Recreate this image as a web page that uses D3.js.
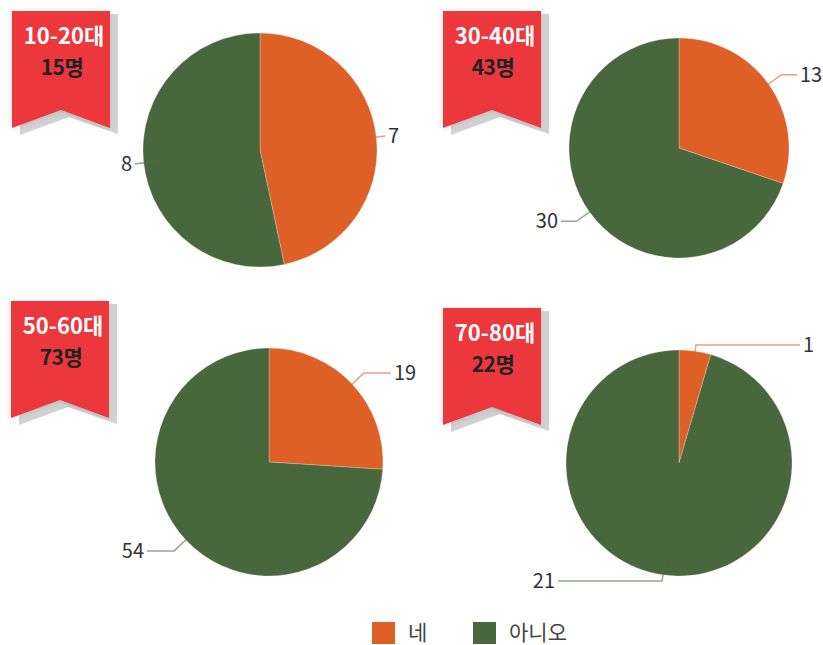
<!DOCTYPE html>
<html><head><meta charset="utf-8">
<script src="https://cdn.jsdelivr.net/npm/d3@7"></script>
<style>
html,body{margin:0;padding:0;background:#fff;}
svg{display:block;font-family:"Noto Sans CJK KR","Noto Sans",sans-serif;}
</style></head>
<body><svg id="chart" width="823" height="645"></svg>
<script>
// ---- data ----
const groups = ["10-20대", "30-40대", "50-60대", "70-80대"];
const totals = ["15명", "43명", "73명", "22명"];
const seriesNames = ["네", "아니오"];
const yesValues = [7, 13, 19, 1];
const noValues = [8, 30, 54, 21];
const seriesColors = ["#de6027", "#48673c"];

// ---- layout (not data) ----
const panels = [
  {cx: 260, cy: 150, r: 117, rx: 12, ry: 11},
  {cx: 679, cy: 148, r: 110, rx: 443, ry: 11},
  {cx: 269, cy: 462, r: 114, rx: 11, ry: 301},
  {cx: 679, cy: 463, r: 113, rx: 443, ry: 308}
];

const svg = d3.select("#chart");
const defs = svg.append("defs");
const f = defs.append("filter").attr("id", "sh").attr("x", "-30%").attr("y", "-30%").attr("width", "160%").attr("height", "160%");
f.append("feDropShadow").attr("dx", -1).attr("dy", 1).attr("stdDeviation", 3).attr("flood-color", "#000").attr("flood-opacity", 0.12);

const color = d3.scaleOrdinal().domain(seriesNames).range(seriesColors);
const pie = d3.pie().sort(null).value(d => d.value);

groups.forEach((g, i) => {
  const p = panels[i];
  const data = [
    {name: seriesNames[0], value: yesValues[i]},
    {name: seriesNames[1], value: noValues[i]}
  ];
  const arcs = pie(data);
  const arc = d3.arc().innerRadius(0).outerRadius(p.r);
  const gp = svg.append("g").attr("transform", `translate(${p.cx},${p.cy})`);
  gp.selectAll("path.slice").data(arcs).join("path")
    .attr("class", "slice")
    .attr("d", arc)
    .attr("fill", d => color(d.data.name))
    .attr("stroke", "#fff").attr("stroke-width", 0.5).attr("stroke-opacity", 0.5);

  arcs.forEach(d => {
    const a = (d.startAngle + d.endAngle) / 2;
    const sx = Math.sin(a), sy = -Math.cos(a);
    const side = sx >= 0 ? 1 : -1;
    const ix = sx * p.r * 0.85, iy = sy * p.r * 0.85;
    let t = p.r + 16;
    let ky = sy * t;
    const lim = p.r + 5;
    if (Math.abs(ky) > lim) { ky = Math.sign(ky) * lim; t = ky / sy; }
    let kx = sx * t;
    const ex = side * (p.r + 8);
    if (side > 0) kx = Math.min(kx, ex); else kx = Math.max(kx, ex);
    const lc = d3.interpolateRgb(color(d.data.name), "#888")(0.12);
    gp.append("polyline")
      .attr("points", [[ix, iy], [kx, ky], [ex, ky]].map(q => q.join(",")).join(" "))
      .attr("fill", "none").attr("stroke", lc).attr("stroke-opacity", 0.6).attr("stroke-width", 1.5);
    gp.append("text")
      .attr("x", ex + side * 3).attr("y", ky)
      .attr("dy", "0.35em")
      .attr("text-anchor", side > 0 ? "start" : "end")
      .attr("font-size", 20).attr("fill", "#333")
      .text(d.data.value);
  });

  // ribbon badge
  const w = 98, h = 117, notch = 99;
  const x = p.rx, y = p.ry;
  const rib = svg.append("g");
  rib.append("polygon")
    .attr("points", [[x + 8, y + 3], [x + w + 8, y + 3], [x + w + 8, y + h + 6], [x + w / 2 + 8, y + notch + 7], [x + 8, y + h + 7]].map(q => q.join(",")).join(" "))
    .attr("fill", "#d2d2d2");
  rib.append("polygon")
    .attr("points", [[x, y], [x + w, y], [x + w, y + h], [x + w / 2, y + notch], [x, y + h]].map(q => q.join(",")).join(" "))
    .attr("fill", "#ec383d").attr("filter", "url(#sh)");
  rib.append("text").attr("text-anchor", "middle").attr("font-weight", 700)
    .attr("x", x + w / 2 + 3).attr("y", y + 33)
    .attr("font-size", 22).attr("fill", "#fff").attr("letter-spacing", 0).text(g);
  rib.append("text").attr("text-anchor", "middle").attr("font-weight", 700)
    .attr("x", x + w / 2 + 1).attr("y", y + 64)
    .attr("font-size", 21).attr("fill", "#222").attr("letter-spacing", -0.5).text(totals[i]);
});

// legend
const legendX = [372, 473];
const leg = svg.append("g");
seriesNames.forEach((n, i) => {
  leg.append("rect").attr("x", legendX[i]).attr("y", 622).attr("width", 23).attr("height", 22).attr("fill", color(n));
  leg.append("text").attr("x", legendX[i] + 36).attr("y", 633).attr("dy", "0.35em")
    .attr("font-size", 21).attr("fill", "#444").text(n);
});
</script>
</body></html>
